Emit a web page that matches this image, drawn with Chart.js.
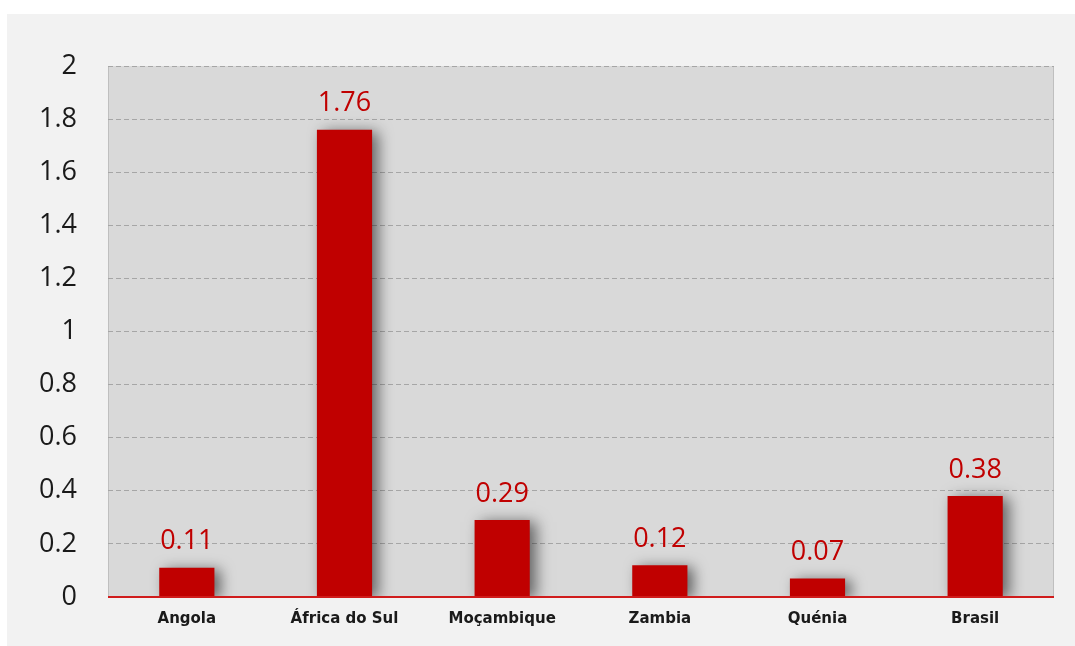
<!DOCTYPE html>
<html>
<head>
<meta charset="utf-8">
<script src="https://cdn.jsdelivr.net/npm/chart.js@4/dist/chart.umd.min.js"></script>
<style>
html,body{margin:0;padding:0;background:#fff;}
#wrap{width:1075px;height:646px;}
</style>
</head>
<body>
<div id="wrap"><canvas id="c" width="1075" height="646"></canvas></div>
<script>
const categories = ['Angola', 'África do Sul', 'Moçambique', 'Zambia', 'Quénia', 'Brasil'];
const values = [0.11, 1.76, 0.29, 0.12, 0.07, 0.38];
const valueLabels = ['0.11', '1.76', '0.29', '0.12', '0.07', '0.38'];
const yTicks = [0, 0.2, 0.4, 0.6, 0.8, 1, 1.2, 1.4, 1.6, 1.8, 2];

const RED = '#c00000';

const bgPlugin = {
  id: 'bg',
  beforeDraw(chart) {
    const ctx = chart.ctx, a = chart.chartArea;
    ctx.save();
    ctx.fillStyle = '#ffffff';
    ctx.fillRect(0, 0, chart.width, chart.height);
    ctx.fillStyle = '#f2f2f2';
    ctx.fillRect(7, 14, chart.width - 7, chart.height - 14);
    ctx.fillStyle = '#d9d9d9';
    ctx.fillRect(a.left, a.top, a.right - a.left, a.bottom - a.top);
    ctx.strokeStyle = '#bfbfbf';
    ctx.lineWidth = 1;
    ctx.beginPath();
    ctx.moveTo(a.left + 0.5, a.top); ctx.lineTo(a.left + 0.5, a.bottom);
    ctx.moveTo(a.right - 0.5, a.top); ctx.lineTo(a.right - 0.5, a.bottom);
    ctx.stroke();
    ctx.restore();
  }
};

const shadowPlugin = {
  id: 'shadow',
  beforeDatasetDraw(chart) {
    const ctx = chart.ctx;
    ctx.save();
    ctx.shadowColor = 'rgba(0,0,0,0.55)';
    ctx.shadowBlur = 14;
    ctx.shadowOffsetX = 6;
    ctx.shadowOffsetY = 2;
  },
  afterDatasetDraw(chart) {
    chart.ctx.restore();
  }
};

const labelPlugin = {
  id: 'labels',
  afterDraw(chart) {
    const ctx = chart.ctx;
    const y = chart.scales.y;
    const a = chart.chartArea;
    ctx.save();
    const y0 = Math.round(y.getPixelForValue(0));
    ctx.strokeStyle = '#d01c1c';
    ctx.lineWidth = 2;
    ctx.beginPath();
    ctx.moveTo(a.left, y0);
    ctx.lineTo(a.right, y0);
    ctx.stroke();
    const meta = chart.getDatasetMeta(0);
    ctx.fillStyle = RED;
    ctx.font = '27px "Open Sans"';
    ctx.textAlign = 'center';
    ctx.textBaseline = 'middle';
    meta.data.forEach((bar, i) => {
      ctx.fillText(valueLabels[i], bar.x, bar.y - 26);
    });
    ctx.restore();
  }
};

new Chart(document.getElementById('c'), {
  type: 'bar',
  data: {
    labels: categories,
    datasets: [{
      data: values,
      backgroundColor: RED,
      borderWidth: 0,
      categoryPercentage: 1,
      barPercentage: 0.35
    }]
  },
  options: {
    responsive: false,
    animation: false,
    devicePixelRatio: 1,
    layout: { padding: { left: 0, right: 21, top: 66, bottom: 0 } },
    plugins: { legend: { display: false }, tooltip: { enabled: false } },
    scales: {
      x: {
        grid: { display: false, drawTicks: false },
        border: { display: false },
        ticks: {
          color: '#1a1a1a',
          font: { family: '"DejaVu Sans"', size: 15, weight: 'bold' },
          padding: 13,
          maxRotation: 0
        },
        afterFit(s) { s.height = 49; }
      },
      y: {
        min: 0, max: 2,
        afterBuildTicks(s) { s.ticks = yTicks.map(v => ({ value: v })); },
        grid: { color: '#a6a6a6', lineWidth: 1, drawTicks: false },
        border: { display: false, dash: [5, 3] },
        ticks: {
          color: '#1a1a1a',
          font: { family: '"Open Sans"', size: 27 },
          padding: 31,
          callback: v => String(v)
        },
        afterFit(s) { s.width = 108; }
      }
    }
  },
  plugins: [bgPlugin, shadowPlugin, labelPlugin]
});
</script>
</body>
</html>
